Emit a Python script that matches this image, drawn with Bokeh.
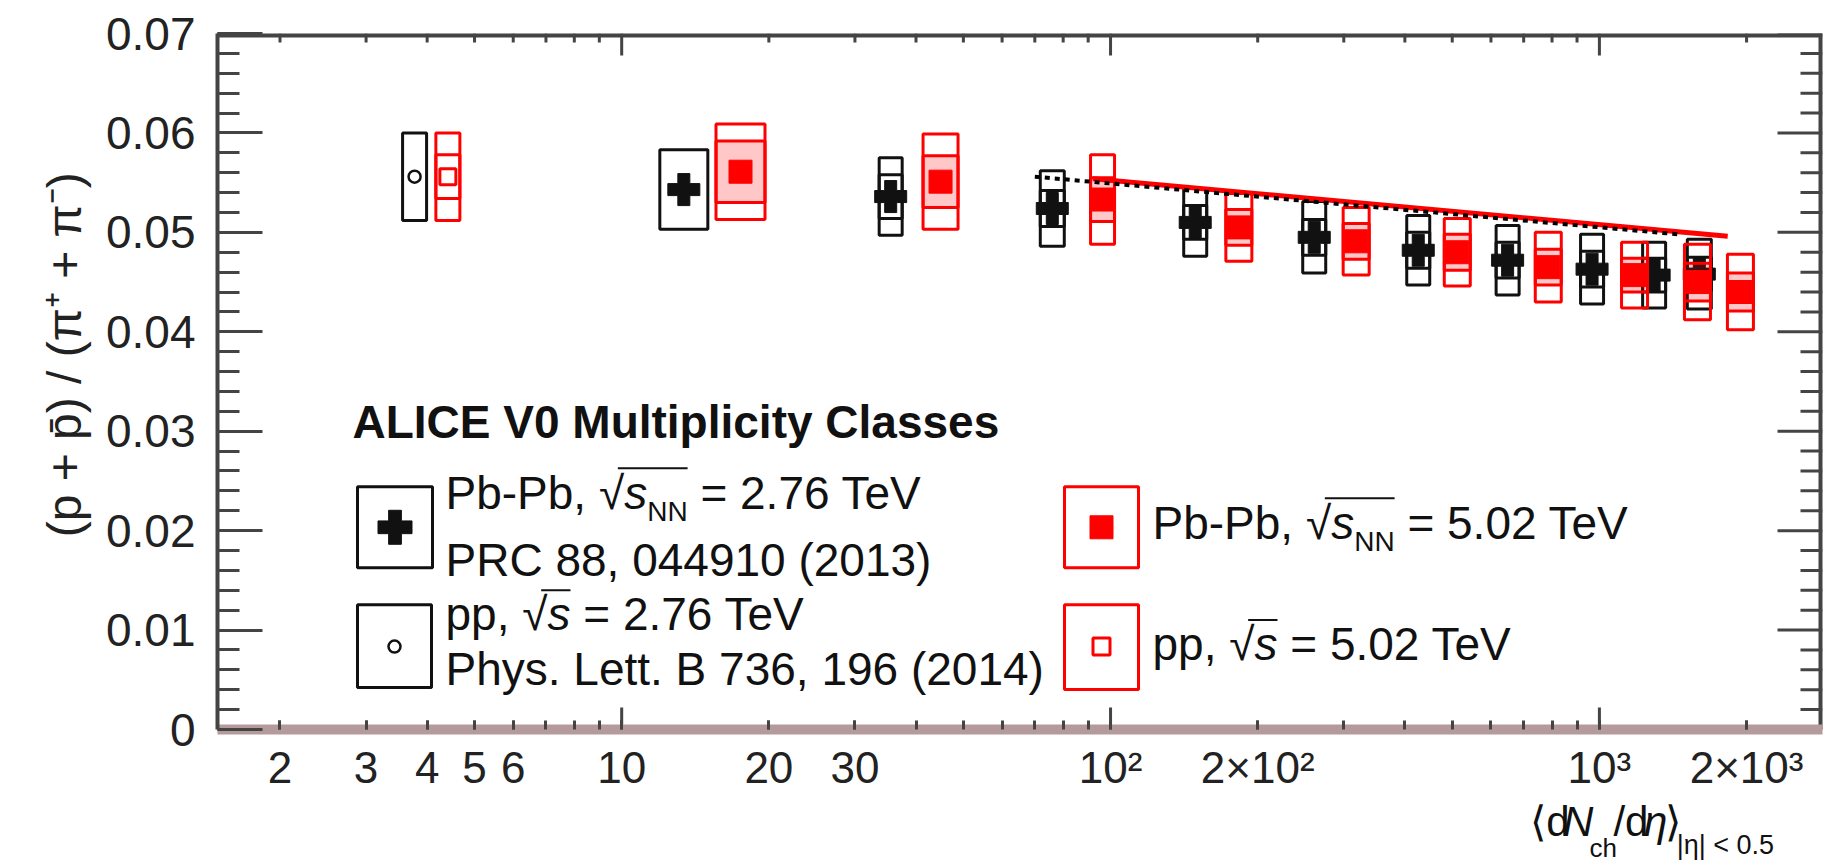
import math
from bokeh.plotting import figure
from bokeh.layouts import column
from bokeh.models import Range1d, FixedTicker, NumeralTickFormatter, Label
from bokeh.embed import file_html
from bokeh.resources import INLINE

NAN = float("nan")

# ---------------- data ----------------
PBPB276_X = [13.4, 35.5, 76.0, 149.0, 261.0, 426.0, 649.0, 966.0, 1294.0, 1601.0]
PBPB276_Y = [0.0543, 0.0536, 0.0524, 0.0510, 0.0495, 0.0482, 0.0472, 0.0463, 0.0457, 0.0458]
PBPB276_SYS = [0.0040, 0.0039, 0.0038, 0.0034, 0.0036, 0.0035, 0.0035, 0.0035, 0.0033, 0.0035]
PBPB276_UNC = [NAN, 0.0022, 0.0018, 0.0017, 0.0018, 0.0018, 0.0018, 0.0018, 0.0017, 0.0017]

PBPB502_X = [17.5, 44.9, 96.3, 183.0, 318.0, 512.0, 786.0, 1180.0, 1587.0, 1943.0]
PBPB502_Y = [0.0561, 0.0551, 0.0533, 0.0505, 0.0491, 0.0480, 0.0465, 0.0457, 0.0450, 0.0440]
PBPB502_SYS = [0.0048, 0.0048, 0.0045, 0.0034, 0.0034, 0.0034, 0.0035, 0.0033, 0.0038, 0.0038]
PBPB502_UNC = [0.0031, 0.0026, 0.0022, 0.0018, 0.0018, 0.0018, 0.0018, 0.0017, 0.0019, 0.0019]

PP276_X = [3.77]
PP276_Y = [0.0556]
PP276_SYS = [0.0044]

PP502_X = [4.41]
PP502_Y = [0.0556]
PP502_SYS = [0.0044]
PP502_UNC = [0.0022]

LINE276_X = [70.0, 1450.0]
LINE276_Y = [0.0556, 0.0498]
LINE502_X = [92.0, 1830.0]
LINE502_Y = [0.0554, 0.0496]

X_TICKS = [2, 3, 4, 5, 6, 10, 20, 30, 100, 200, 1000, 2000]
X_TICK_LABELS = ["2", "3", "4", "5", "6", "10", "20", "30", "10²", "2×10²", "10³", "2×10³"]
DECADES = [10, 100, 1000]
Y_TICKS = [0.0, 0.01, 0.02, 0.03, 0.04, 0.05, 0.06, 0.07]

# ---------------- layout / style ----------------
W, H = 1834, 863
H_MAIN = 794
FL, FR, FT, FB = 217, 1822, 33, 730
XMIN, XMAX = 1.49, 2860.0
YMIN, YMAX = 0.0, 0.07
FONT = "Liberation Sans"
RED = "#ff0000"
BLK = "#111111"
AXC = "#444444"
BASE_FIX = 0.33          # bokeh places 'alphabetic' text a bit low

LX0, LX1 = math.log10(XMIN), math.log10(XMAX)
PX_PER_DEC = (FR - FL) / (LX1 - LX0)


def dx(px):
    return 10 ** (LX0 + (px - FL) / (FR - FL) * (LX1 - LX0))


def dy(py):
    return YMIN + (YMAX - YMIN) * (FB - py) / (FB - FT)


HW276 = [24, 11.5, 12, 11.5, 11.5, 11.5, 11.5, 11.5, 11.5, 12]
HW502 = [24.5, 17.5, 12, 13, 13, 13, 13, 13, 13, 13]
HWPP = 12

p = figure(width=W, height=H_MAIN, x_axis_type="log",
           x_range=Range1d(XMIN, XMAX), y_range=Range1d(YMIN, YMAX),
           output_backend="svg", toolbar_location=None,
           min_border_left=FL, min_border_right=W - FR,
           min_border_top=FT, min_border_bottom=H_MAIN - FB)
p.grid.visible = False
p.outline_line_color = None
p.background_fill_color = "white"
p.border_fill_color = "white"

X_MINOR = [k * 10 ** n for n in range(0, 4) for k in range(1, 10)
           if XMIN <= k * 10 ** n <= XMAX]
Y_MINOR = [i * 0.002 for i in range(0, 36)]

xa = p.xaxis[0]
xa.ticker = FixedTicker(ticks=X_TICKS, minor_ticks=X_MINOR)
xa.major_label_overrides = {t: l for t, l in zip(X_TICKS, X_TICK_LABELS)}
xa.major_tick_in = 9
xa.major_tick_out = 0
xa.minor_tick_in = 9
xa.minor_tick_out = 0
xa.major_tick_line_color = AXC
xa.minor_tick_line_color = AXC
xa.major_tick_line_width = 3
xa.minor_tick_line_width = 3
xa.axis_line_color = "#b59a9c"
xa.axis_line_width = 10
xa.major_label_text_font = FONT
xa.major_label_text_font_size = "44px"
xa.major_label_text_color = "#222222"
xa.major_label_standoff = 13

ya = p.yaxis[0]
ya.ticker = FixedTicker(ticks=Y_TICKS, minor_ticks=Y_MINOR)
ya.formatter = NumeralTickFormatter(format="0.[00]")
ya.major_tick_in = 45
ya.major_tick_out = 0
ya.minor_tick_in = 22
ya.minor_tick_out = 0
ya.major_tick_line_color = AXC
ya.minor_tick_line_color = AXC
ya.major_tick_line_width = 3
ya.minor_tick_line_width = 3
ya.axis_line_color = AXC
ya.axis_line_width = 4
ya.major_label_text_font = FONT
ya.major_label_text_font_size = "46px"
ya.major_label_text_color = "#222222"
ya.major_label_standoff = 22
ya.axis_label = "\u00a0" * 4 + "(p + p\u0304) / (\u03c0\u207a + \u03c0\u207b)"
ya.axis_label_text_font = FONT
ya.axis_label_text_font_size = "48px"
ya.axis_label_text_font_style = "normal"
ya.axis_label_text_color = "#222222"
ya.axis_label_standoff = 12

# frame lines on top and right (half of the width is clipped away)
p.segment(x0=[XMIN], y0=[YMAX], x1=[XMAX], y1=[YMAX], line_color=AXC, line_width=8)
p.segment(x0=[XMAX], y0=[YMIN], x1=[XMAX], y1=[YMAX], line_color=AXC, line_width=8)

# mirrored ticks on the top and right edges, long ticks at decades
SHORT_X = 9
LONG_X = 22
up = dy(FB - SHORT_X) - YMIN
up_long = dy(FB - LONG_X) - YMIN
top_minor = [t for t in X_MINOR if t not in DECADES]
p.segment(x0=top_minor, y0=[YMAX] * len(top_minor), x1=top_minor,
          y1=[YMAX - up] * len(top_minor), line_color=AXC, line_width=3)
p.segment(x0=DECADES, y0=[YMAX] * len(DECADES), x1=DECADES,
          y1=[YMAX - up_long] * len(DECADES), line_color=AXC, line_width=3)
p.segment(x0=DECADES, y0=[YMIN] * len(DECADES), x1=DECADES,
          y1=[YMIN + up_long] * len(DECADES), line_color=AXC, line_width=3)

r_minor = [t for t in Y_MINOR if all(abs(t - m) > 1e-9 for m in Y_TICKS)]
xr_minor = XMAX * 10 ** (-22 / PX_PER_DEC)
xr_major = XMAX * 10 ** (-45 / PX_PER_DEC)
p.segment(x0=[XMAX] * len(r_minor), y0=r_minor, x1=[xr_minor] * len(r_minor),
          y1=r_minor, line_color=AXC, line_width=3)
p.segment(x0=[XMAX] * len(Y_TICKS), y0=Y_TICKS, x1=[xr_major] * len(Y_TICKS),
          y1=Y_TICKS, line_color=AXC, line_width=3)


def boxes(xs, ys, errs, hws, color, fill_alpha=0.0):
    left = [x * 10 ** (-h / PX_PER_DEC) for x, h in zip(xs, hws)]
    rightb = [x * 10 ** (h / PX_PER_DEC) for x, h in zip(xs, hws)]
    bottom = [y - e for y, e in zip(ys, errs)]
    topb = [y + e for y, e in zip(ys, errs)]
    p.quad(left=left, right=rightb, bottom=bottom, top=topb,
           fill_color=color if fill_alpha > 0 else None, fill_alpha=fill_alpha,
           line_color=color, line_width=3)


# pp 2.76 (black open circle)
boxes(PP276_X, PP276_Y, PP276_SYS, [HWPP] * len(PP276_X), BLK)
p.scatter(PP276_X, PP276_Y, marker="circle", size=12, fill_color=None,
          line_color=BLK, line_width=2.5)

# pp 5.02 (red open square)
boxes(PP502_X, PP502_Y, PP502_SYS, [HWPP] * len(PP502_X), RED)
boxes(PP502_X, PP502_Y, PP502_UNC, [HWPP] * len(PP502_X), RED)
p.scatter(PP502_X, PP502_Y, marker="square", size=16, fill_color=None,
          line_color=RED, line_width=3)

# Pb-Pb 2.76 (black crosses)
boxes(PBPB276_X, PBPB276_Y, PBPB276_SYS, HW276, BLK)
boxes(PBPB276_X, PBPB276_Y, PBPB276_UNC, HW276, BLK)
p.scatter(PBPB276_X, PBPB276_Y, marker="plus", size=32, fill_color=BLK,
          line_color=BLK, line_width=1)

# Pb-Pb 5.02 (red squares)
boxes(PBPB502_X, PBPB502_Y, PBPB502_SYS, HW502, RED)
boxes(PBPB502_X, PBPB502_Y, PBPB502_UNC, HW502, RED, fill_alpha=0.22)
p.scatter(PBPB502_X, PBPB502_Y, marker="square", size=23, fill_color=RED,
          line_color=RED, line_width=1)

# curves
p.line(LINE502_X, LINE502_Y, line_color=RED, line_width=5)
p.line(LINE276_X, LINE276_Y, line_color="#000000", line_width=4, line_dash="5 5")

# ---------------- text helpers ----------------
AW = {' ': 278, '\u00a0': 278, ',': 278, '-': 333, '.': 278, '=': 584, '(': 333,
      ')': 333, '/': 278, '|': 260, '<': 584, '×': 584, '√': 549, 'η': 556,
      '⟨': 333, '⟩': 333, 'P': 667, 'b': 556, 'T': 611, 'e': 556, 'V': 667,
      'p': 556, 'N': 722, 's': 500, 'R': 722, 'C': 722, 'h': 556, 'y': 500,
      'L': 556, 't': 278, 'B': 667, 'd': 556, 'c': 500}


def tw(txt, size):
    return sum(AW.get(c, 556) for c in txt) * size / 1000.0


def make_text(fig, mapx, mapy, px, py, txt, size, style="normal", color="#111111"):
    fig.add_layout(Label(x=mapx(px), y=mapy(py - BASE_FIX * size), text=txt,
                         text_font=FONT, text_font_size=f"{size}px",
                         text_font_style=style, text_color=color,
                         text_align="left", text_baseline="alphabetic"))


def rich(fig, mapx, mapy, px, py, pieces):
    x = px
    spans = []
    for txt, size, style, off in pieces:
        make_text(fig, mapx, mapy, x, py + off, txt, size, style)
        w = tw(txt, size)
        spans.append((x, w))
        x += w
    return spans


def overline(spans, i0, i1, py, size):
    x0 = spans[i0][0] + 0.75 * spans[i0][1]
    x1 = spans[i1][0] + spans[i1][1]
    yy = dy(py - 0.86 * size)
    p.segment(x0=[dx(x0)], y0=[yy], x1=[dx(x1)], y1=[yy],
              line_color="#111111", line_width=2)


def legend_box(l, t, r, b, color):
    p.quad(left=[dx(l)], right=[dx(r)], top=[dy(t)], bottom=[dy(b)],
           fill_color=None, line_color=color, line_width=3)


NB = "\u00a0"
FS = 46
SUB = 28

make_text(p, dx, dy, 352, 437, "ALICE V0 Multiplicity Classes", FS, "bold")

# entry: Pb-Pb 2.76
legend_box(357, 487, 432, 568, BLK)
p.scatter([dx(394.5)], [dy(527.5)], marker="plus", size=34, fill_color=BLK,
          line_color=BLK, line_width=1)
sp = rich(p, dx, dy, 445, 508, [("Pb-Pb," + NB, FS, "normal", 0), ("√", FS, "normal", 0),
                                ("s", FS, "italic", 0), ("NN", SUB, "normal", 13),
                                (NB + "=" + NB + "2.76 TeV", FS, "normal", 0)])
overline(sp, 1, 3, 508, FS)
make_text(p, dx, dy, 445, 575, "PRC 88, 044910 (2013)", FS)

# entry: pp 2.76
legend_box(357, 605, 431, 688, BLK)
p.scatter([dx(394)], [dy(647)], marker="circle", size=12, fill_color=None,
          line_color=BLK, line_width=2.5)
sp = rich(p, dx, dy, 445, 630, [("pp," + NB, FS, "normal", 0), ("√", FS, "normal", 0),
                                ("s", FS, "italic", 0),
                                (NB + "=" + NB + "2.76 TeV", FS, "normal", 0)])
overline(sp, 1, 2, 630, FS)
make_text(p, dx, dy, 445, 685, "Phys. Lett. B 736, 196 (2014)", FS)

# entry: Pb-Pb 5.02
legend_box(1064, 487, 1138, 568, RED)
p.scatter([dx(1101)], [dy(527.5)], marker="square", size=23, fill_color=RED,
          line_color=RED, line_width=1)
sp = rich(p, dx, dy, 1152, 538, [("Pb-Pb," + NB, FS, "normal", 0), ("√", FS, "normal", 0),
                                 ("s", FS, "italic", 0), ("NN", SUB, "normal", 13),
                                 (NB + "=" + NB + "5.02 TeV", FS, "normal", 0)])
overline(sp, 1, 3, 538, FS)

# entry: pp 5.02
legend_box(1064, 605, 1138, 690, RED)
p.scatter([dx(1101)], [dy(647)], marker="square", size=17, fill_color=None,
          line_color=RED, line_width=3)
sp = rich(p, dx, dy, 1152, 660, [("pp," + NB, FS, "normal", 0), ("√", FS, "normal", 0),
                                 ("s", FS, "italic", 0),
                                 (NB + "=" + NB + "5.02 TeV", FS, "normal", 0)])
overline(sp, 1, 2, 660, FS)

# ---------------- x axis title in a strip below (canvas pixel coordinates) ----------------
p2 = figure(width=W, height=H - H_MAIN, x_range=Range1d(0, W),
            y_range=Range1d(H, H_MAIN), output_backend="svg",
            toolbar_location=None, x_axis_location=None, y_axis_location=None,
            min_border=0, min_border_left=0, min_border_right=0,
            min_border_top=0, min_border_bottom=0)
p2.grid.visible = False
p2.outline_line_color = None
p2.background_fill_color = "white"
p2.border_fill_color = "white"


def ident(v):
    return v


XF = 42
rich(p2, ident, ident, 1500, 835, [("⟨d", XF, "normal", 0), ("N", XF, "italic", 0),
                                   ("ch", 26, "normal", 21), ("/d", XF, "normal", 0),
                                   ("η", XF, "italic", 0), ("⟩", XF, "normal", 0),
                                   ("|η|" + NB + "<" + NB + "0.5", 27, "normal", 18)])

layout = column(p, p2)
open("out.html", "w").write(file_html(layout, INLINE))
